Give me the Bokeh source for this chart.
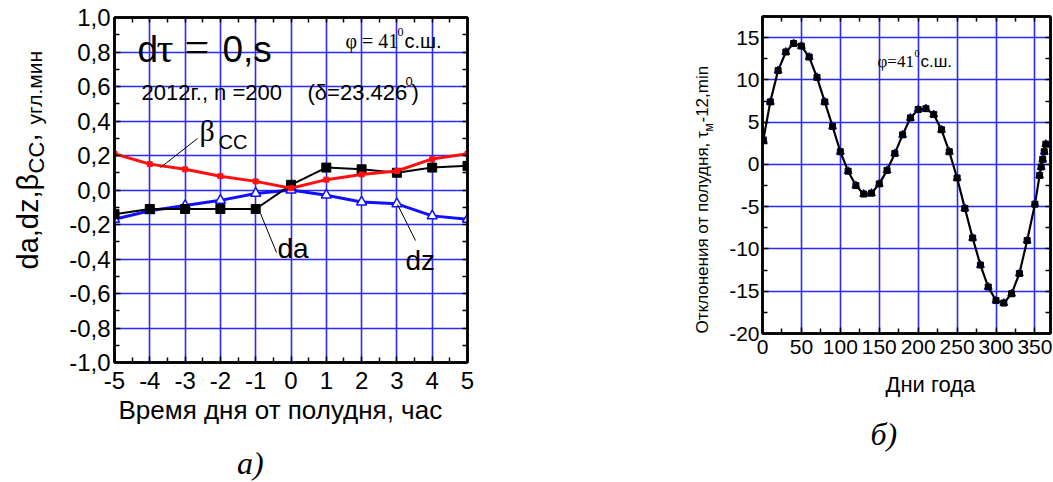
import math
from bokeh.plotting import figure
from bokeh.layouts import row, column
from bokeh.models import Range1d, LinearAxis, FixedTicker, Grid, Label, Title
from bokeh.embed import file_html
from bokeh.resources import INLINE

# ---- panel (a): corrections vs. hour from noon ----
hours = [-5, -4, -3, -2, -1, 0, 1, 2, 3, 4, 5]
da = [-0.14, -0.11, -0.11, -0.11, -0.11, 0.03, 0.13, 0.12, 0.10, 0.13, 0.14]
dz = [-0.17, -0.12, -0.09, -0.06, -0.02, 0.00, -0.03, -0.07, -0.08, -0.15, -0.17]
beta_cc = [0.21, 0.15, 0.12, 0.08, 0.05, 0.01, 0.06, 0.09, 0.11, 0.18, 0.21]

hour_ticks = [-5, -4, -3, -2, -1, 0, 1, 2, 3, 4, 5]
hour_tick_labels = ["-5", "-4", "-3", "-2", "-1", "0", "1", "2", "3", "4", "5"]
hour_minor = [-4.5, -3.5, -2.5, -1.5, -0.5, 0.5, 1.5, 2.5, 3.5, 4.5]
angle_ticks = [-1.0, -0.8, -0.6, -0.4, -0.2, 0.0, 0.2, 0.4, 0.6, 0.8, 1.0]
angle_tick_labels = ["-1,0", "-0,8", "-0,6", "-0,4", "-0,2", "0,0",
                     "0,2", "0,4", "0,6", "0,8", "1,0"]
angle_minor = [-0.9, -0.7, -0.5, -0.3, -0.1, 0.1, 0.3, 0.5, 0.7, 0.9]

# ---- panel (b): noon deviation over the year ----
days = [1, 10, 20, 30, 40, 50, 60, 70, 80, 90, 100, 110, 120, 130, 140, 150,
        160, 170, 180, 190, 200, 210, 220, 230, 240, 250, 260, 270, 280, 290,
        300, 310, 320, 330, 340, 350, 356, 358, 360, 362, 364]
deviation = [2.9, 7.4, 11.1, 13.3, 14.3, 14.0, 12.7, 10.3, 7.4, 4.5, 1.5, -0.8,
             -2.5, -3.5, -3.4, -2.3, -0.7, 1.3, 3.5, 5.5, 6.5, 6.6, 5.9, 4.1,
             1.5, -1.6, -5.2, -8.7, -11.9, -14.5, -16.1, -16.4, -15.3, -12.9,
             -9.0, -4.7, -1.3, -0.3, 0.6, 1.5, 2.4]

day_ticks = [0, 50, 100, 150, 200, 250, 300, 350]
day_tick_labels = ["0", "50", "100", "150", "200", "250", "300", "350"]
day_minor = [25, 75, 125, 175, 225, 275, 325]
dev_ticks = [-20, -15, -10, -5, 0, 5, 10, 15]
dev_tick_labels = ["-20", "-15", "-10", "-5", "0", "5", "10", "15"]
dev_minor = [-17.5, -12.5, -7.5, -2.5, 2.5, 7.5, 12.5]

SANS = "Liberation Sans"
SERIF = "Liberation Serif"
GRID_BLUE = "#2a2aff"
H = 482

# page layout (pixels): [strip A | plot A | strip B | plot B]
SA_W = 56
A_X0, A_X1 = 56, 540
A_L, A_R, A_T, A_B = 114, 467, 17, 362          # frame of plot A on the page
A_H = 440
SB_X0, SB_X1 = 540, 725
B_X0, B_X1 = 725, 1053
B_L, B_R, B_T, B_B = 762, 1050, 16, 333         # frame of plot B on the page
B_H = 410


def a_xy(px, py):
    return (-5 + (px - A_L) / (A_R - A_L) * 10,
            1 - (py - A_T) / (A_B - A_T) * 2)


def b_xy(px, py):
    return ((px - B_L) / (B_R - B_L) * 370,
            17.5 - (py - B_T) / (B_B - B_T) * 37.5)


def page_xy(px, py):
    return px, py


def add_axes(p, xt, xl, xm, yt, yl, ym, label_size, x_standoff, y_standoff):
    for side in ("below", "left", "above", "right"):
        horiz = side in ("below", "above")
        major, minor, labels = (xt, xm, xl) if horiz else (yt, ym, yl)
        if side in ("below", "left"):
            ticker = FixedTicker(ticks=major, minor_ticks=minor)
        else:
            # opposite sides carry tick marks only
            ticker = FixedTicker(ticks=[], minor_ticks=sorted(major + minor))
        ax = LinearAxis(ticker=ticker)
        ax.axis_line_width = 2.5
        ax.axis_line_color = "black"
        ax.major_tick_in = 6
        ax.major_tick_out = 0
        ax.minor_tick_in = 5
        ax.minor_tick_out = 0
        ax.major_tick_line_width = 1.5
        ax.minor_tick_line_width = 1.5
        ax.major_label_text_font = SANS
        ax.major_label_text_color = "black"
        ax.major_label_text_font_size = label_size
        ax.major_label_standoff = (x_standoff if horiz else y_standoff) \
            if side in ("below", "left") else 0
        ax.major_label_overrides = dict(zip(major, labels))
        p.add_layout(ax, side)
    p.add_layout(Grid(dimension=0, ticker=FixedTicker(ticks=xt),
                      grid_line_color=GRID_BLUE, grid_line_width=1.6))
    p.add_layout(Grid(dimension=1, ticker=FixedTicker(ticks=yt),
                      grid_line_color=GRID_BLUE, grid_line_width=1.6))


def put(p, conv, text, px, py, size, font=SANS, style="normal", vertical=False):
    # (px, py) is the start of the text's baseline; the label is centred on
    # the middle of its line box, which sits about a third of an em above it
    shift = 0.345 * size
    if vertical:
        px -= shift
    else:
        py -= shift
    x, y = conv(px, py)
    p.add_layout(Label(x=x, y=y, text=text, text_font=font,
                       text_font_size=f"{size}px", text_font_style=style,
                       text_color="black", text_align="left",
                       text_baseline="middle",
                       angle=math.pi / 2 if vertical else 0.0))


def strip(x0, x1, y0, y1):
    # text-only area whose data coordinates are page pixels
    return figure(width=x1 - x0, height=y1 - y0, x_range=Range1d(x0, x1),
                  y_range=Range1d(y1, y0), x_axis_type=None, y_axis_type=None,
                  output_backend="svg", toolbar_location=None, min_border=0,
                  outline_line_color=None)


def x_title(p, text, offset, size, standoff):
    p.add_layout(Title(text=text, align="left", offset=offset, text_font=SANS,
                       text_font_size=size, text_font_style="normal",
                       text_color="black", standoff=standoff), "below")


# ================= panel (a) =================
pa = figure(width=A_X1 - A_X0, height=A_H, x_range=Range1d(-5, 5),
            y_range=Range1d(-1, 1), x_axis_type=None, y_axis_type=None,
            output_backend="svg", toolbar_location=None,
            min_border_left=A_L - A_X0, min_border_right=A_X1 - A_R,
            min_border_top=A_T, min_border_bottom=A_H - A_B,
            outline_line_color="black", outline_line_width=2.5)
add_axes(pa, hour_ticks, hour_tick_labels, hour_minor,
         angle_ticks, angle_tick_labels, angle_minor, "24px", 9, 4)
x_title(pa, "Время дня от полудня, час", 118 - A_L, "26px", 2)

pa.line(hours, dz, line_color="#1010ff", line_width=3)
pa.scatter(hours, dz, marker="triangle", size=10, fill_color="white",
           line_color="#1010ff", line_width=1.5)
pa.line(hours, da, line_color="black", line_width=2)
pa.scatter(hours, da, marker="square", size=9, fill_color="black", line_color="black")
pa.line(hours, beta_cc, line_color="#ff1010", line_width=3)
pa.scatter(hours, beta_cc, marker="square", size=5, fill_color="#ff1010",
           line_color="#ff1010")

# leader lines from curve labels to the curves
lead = [(a_xy(160, 167), a_xy(197, 138)),
        (a_xy(260, 213), a_xy(276, 252)),
        (a_xy(397, 204), a_xy(415, 240))]
pa.segment(x0=[s[0][0] for s in lead], y0=[s[0][1] for s in lead],
           x1=[s[1][0] for s in lead], y1=[s[1][1] for s in lead],
           line_color="black", line_width=1)

put(pa, a_xy, "d", 137, 62, 37)
put(pa, a_xy, "τ", 156, 62, 42, SERIF)
put(pa, a_xy, "=", 184, 62, 44, SERIF)
put(pa, a_xy, "0,s", 222, 62, 37)
put(pa, a_xy, "φ = 41", 345, 47, 20, SERIF)
put(pa, a_xy, "0", 397, 36, 12, SERIF)
put(pa, a_xy, "с.ш.", 404, 47, 20)
put(pa, a_xy, "2012г., n =200", 141, 100, 22)
put(pa, a_xy, "(δ=23.426", 307, 100, 22)
put(pa, a_xy, "0", 405, 85, 13)
put(pa, a_xy, ")", 411, 100, 22)
put(pa, a_xy, "β", 199, 140, 30, SERIF)
put(pa, a_xy, "CC", 218, 148, 20)
put(pa, a_xy, "da", 277, 258, 28)
put(pa, a_xy, "dz", 405, 270, 28)

# vertical axis title of panel (a), in pieces so the subscript sits lower
sa = strip(0, SA_W, 0, H)
put(sa, page_xy, "da,dz,β", 38, 269, 29, vertical=True)
put(sa, page_xy, "CC", 44, 173, 22, vertical=True)
put(sa, page_xy, ",", 38, 141, 29, vertical=True)
put(sa, page_xy, "угл.мин", 41, 124, 21, vertical=True)

sa_below = strip(A_X0, A_X1, A_H, H)
put(sa_below, page_xy, "а)", 224, 474, 32, SERIF, "italic")

# ================= panel (b) =================
pb = figure(width=B_X1 - B_X0, height=B_H, x_range=Range1d(0, 370),
            y_range=Range1d(-20, 17.5), x_axis_type=None, y_axis_type=None,
            output_backend="svg", toolbar_location=None,
            min_border_left=B_L - B_X0, min_border_right=B_X1 - B_R,
            min_border_top=B_T, min_border_bottom=B_H - B_B,
            outline_line_color="black", outline_line_width=2.5)
add_axes(pb, day_ticks, day_tick_labels, day_minor,
         dev_ticks, dev_tick_labels, dev_minor, "21px", 6, 3)
x_title(pb, "Дни года", 885 - B_L, "22px", 26)

pb.line(days, deviation, line_color="black", line_width=2.2)
pb.scatter(days, deviation, marker="triangle", size=8, fill_color="#1010ff",
           line_color="#1010ff")
pb.scatter(days, deviation, marker="square", size=6, fill_color="black",
           line_color="black")

put(pb, b_xy, "φ=41", 877, 67, 17, SERIF)
put(pb, b_xy, "0", 914, 56, 10, SERIF)
put(pb, b_xy, "с.ш.", 920, 67, 17)

sb = strip(SB_X0, SB_X1, 0, H)
put(sb, page_xy, "Отклонения от полудня, τ", 708, 333, 17, vertical=True)
put(sb, page_xy, "м", 713, 131, 12, vertical=True)
put(sb, page_xy, "-12,min", 708, 122, 17, vertical=True)

sb_below = strip(B_X0, B_X1, B_H, H)
put(sb_below, page_xy, "б)", 848, 445, 32, SERIF, "italic")

layout = row(sa, column(pa, sa_below), sb, column(pb, sb_below))
open("out.html", "w").write(file_html(layout, INLINE))
